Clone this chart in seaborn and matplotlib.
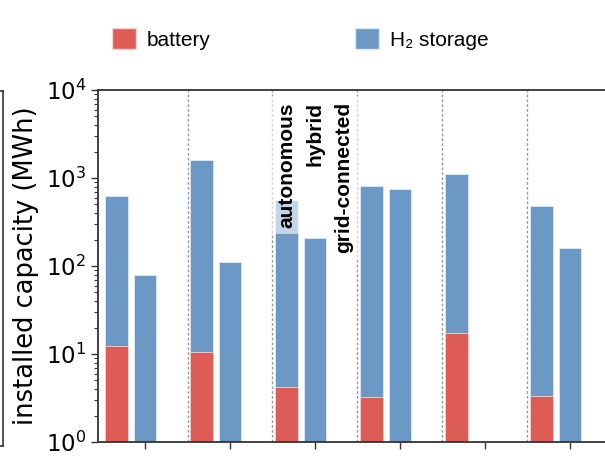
import numpy as np
import pandas as pd
import matplotlib
matplotlib.use("Agg")
import matplotlib.pyplot as plt
import seaborn as sns
from matplotlib.patches import Patch

# values (MWh)
cases = ["1", "2", "3", "4", "5", "6"]
configs = ["autonomous", "hybrid", "grid-connected"]
h2_autonomous = [630, 1600, 560, 810, 1110, 485]
h2_hybrid = [79, 111, 209, 745, 0, 161]
h2_grid = [0, 0, 0, 0, 0, 0]
battery_autonomous = [12.3, 10.6, 4.25, 3.27, 17.5, 3.34]
battery_hybrid = [0, 0, 0, 0, 0, 0]
battery_grid = [0, 0, 0, 0, 0, 0]

red = "#DE5C56"
blue = "#6B98C4"

h2 = pd.DataFrame({
    "case": cases * 3,
    "config": np.repeat(configs, len(cases)),
    "capacity": h2_autonomous + h2_hybrid + h2_grid,
})
bat = pd.DataFrame({
    "case": cases * 3,
    "config": np.repeat(configs, len(cases)),
    "capacity": battery_autonomous + battery_hybrid + battery_grid,
})

sns.set_style("ticks")
plt.rcParams["font.family"] = ["DejaVu Sans"]
plt.rcParams["text.color"] = "black"
plt.rcParams["axes.labelcolor"] = "black"
plt.rcParams["xtick.color"] = "#333333"
plt.rcParams["ytick.color"] = "#333333"
plt.rcParams["xtick.labelcolor"] = "black"
plt.rcParams["ytick.labelcolor"] = "black"

fig = plt.figure(figsize=(6.05, 4.72), dpi=100)
ax = fig.add_axes([98 / 605, 30 / 472, 507 / 605, 352 / 472])

sns.barplot(data=h2, x="case", y="capacity", hue="config", hue_order=configs,
            palette={c: blue for c in configs}, width=1.0, gap=0.2,
            edgecolor="#DDE8F3", linewidth=0.6, saturation=1, legend=False, ax=ax)
sns.barplot(data=bat, x="case", y="capacity", hue="config", hue_order=configs,
            palette={c: red for c in configs}, width=1.0, gap=0.2,
            edgecolor="#F3D5D3", linewidth=0.6, saturation=1, legend=False, ax=ax)

ax.set_yscale("log")
ax.set_ylim(1, 1e4)
ax.set_xlim(-0.553, 5.412)

for i in range(len(cases) - 1):
    ax.axvline(i + 0.5, color="#9A9A9A", linestyle=(0, (2, 1.5)), linewidth=1, zorder=0)

# configuration labels on the third group
for k, name in enumerate(configs):
    ax.text(2 + (k - 1) / 3, 10 ** 3.86, name, rotation=90, ha="center", va="top",
            fontsize=15, fontweight="bold", family=["Liberation Sans", "DejaVu Sans"],
            bbox=dict(boxstyle="square,pad=0.3", facecolor="white", edgecolor="none", alpha=0.6),
            zorder=5)

ax.set_xlabel("")
ax.set_xticklabels([])
ax.set_ylabel("installed capacity (MWh)", fontsize=18.5)
ax.yaxis.set_label_coords(-0.116, 0.5)
ax.tick_params(axis="y", which="major", labelsize=16.5, length=5, width=1)
ax.tick_params(axis="y", which="minor", length=3, width=0.8)
ax.tick_params(axis="x", length=5, width=1)
for side in ["left", "bottom", "top"]:
    ax.spines[side].set_color("#333333")
    ax.spines[side].set_linewidth(1.3)
ax.spines["right"].set_visible(False)

# edge of the neighbouring panel, cut off at the left
ax0 = fig.add_axes([-0.2, 26 / 472, 0.2 + 3 / 605, 355 / 472])
ax0.set_xticks([])
ax0.set_yticks([])
ax0.spines["left"].set_visible(False)
for side in ["right", "top", "bottom"]:
    ax0.spines[side].set_color("#333333")
    ax0.spines[side].set_linewidth(1.2)

handles = [Patch(facecolor=red, edgecolor="#F3D5D3", label="battery"),
           Patch(facecolor=blue, edgecolor="#DDE8F3", label="H₂ storage")]
fig.legend(handles=handles, loc="center left", bbox_to_anchor=(112 / 605, 1 - 39 / 472),
           ncol=2, frameon=False, borderpad=0, borderaxespad=0,
           handlelength=1.15, handleheight=1.15, handletextpad=0.52, columnspacing=6.95,
           prop={"family": ["Liberation Sans", "DejaVu Sans"], "size": 15})

fig.savefig("out.png", dpi=100)
